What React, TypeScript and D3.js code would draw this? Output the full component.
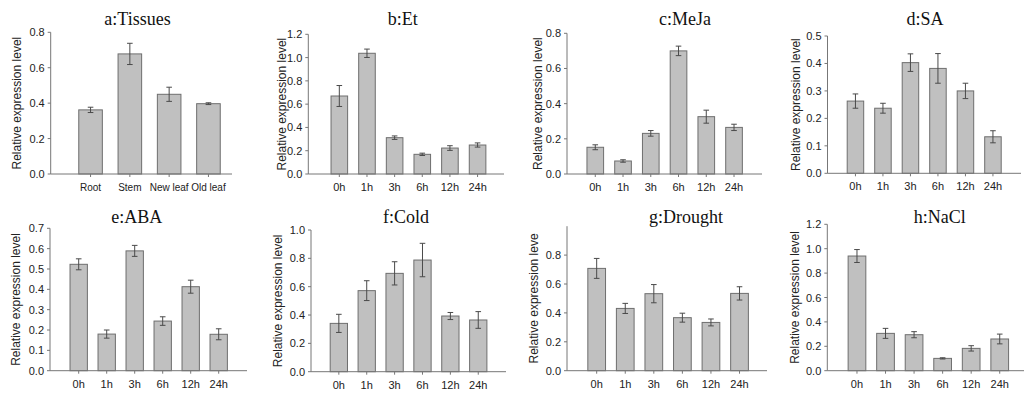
import React from "react";
import * as d3 from "d3";

// ---------- data ----------
const tissueCats = ["Root", "Stem", "New leaf", "Old leaf"];
const timeCats = ["0h", "1h", "3h", "6h", "12h", "24h"];

const tissuesVals = [0.362, 0.678, 0.45, 0.397];
const tissuesErr = [0.015, 0.06, 0.04, 0.005];
const etVals = [0.67, 1.037, 0.312, 0.169, 0.223, 0.249];
const etErr = [0.09, 0.036, 0.015, 0.01, 0.02, 0.018];
const mejaVals = [0.152, 0.074, 0.231, 0.7, 0.326, 0.265];
const mejaErr = [0.014, 0.007, 0.016, 0.027, 0.037, 0.018];
const saVals = [0.263, 0.237, 0.403, 0.382, 0.3, 0.133];
const saErr = [0.026, 0.018, 0.032, 0.054, 0.028, 0.022];
const abaVals = [0.523, 0.18, 0.589, 0.244, 0.413, 0.179];
const abaErr = [0.027, 0.02, 0.027, 0.021, 0.032, 0.027];
const coldVals = [0.341, 0.572, 0.694, 0.788, 0.393, 0.365];
const coldErr = [0.064, 0.07, 0.082, 0.118, 0.025, 0.059];
const droughtVals = [0.708, 0.431, 0.533, 0.367, 0.334, 0.535];
const droughtErr = [0.069, 0.035, 0.063, 0.031, 0.024, 0.046];
const naclVals = [0.94, 0.306, 0.295, 0.101, 0.183, 0.26];
const naclErr = [0.053, 0.041, 0.025, 0.005, 0.022, 0.04];

const ticks08 = [0, 0.2, 0.4, 0.6, 0.8];
const ticks12 = [0, 0.2, 0.4, 0.6, 0.8, 1.0, 1.2];
const ticks05 = [0, 0.1, 0.2, 0.3, 0.4, 0.5];
const ticks07 = [0, 0.1, 0.2, 0.3, 0.4, 0.5, 0.6, 0.7];
const ticks10 = [0, 0.2, 0.4, 0.6, 0.8, 1.0];

const titles = ["a:Tissues", "b:Et", "c:MeJa", "d:SA", "e:ABA", "f:Cold", "g:Drought", "h:NaCl"];
const yLabel = "Relative expression level";
const yLabelG = "Relative expression leve";

// ---------- layout ----------
type Layout = {
  ax0: number; ax1: number; b0: number; b1: number; yTop: number; yBot: number;
  yMax: number; tx: number; ty: number; lx: number; pad: number; xfs: number;
};
const layouts: Layout[] = [
  { ax0: 50.7, ax1: 232, b0: 70.9, b1: 228.1, yTop: 32.3, yBot: 174, yMax: 0.8, tx: 137.5, ty: 25, lx: 17, pad: 0.4, xfs: 10 },
  { ax0: 308.3, ax1: 504, b0: 325.5, b1: 491.4, yTop: 34.3, yBot: 174, yMax: 1.2, tx: 402.7, ty: 25, lx: 282, pad: 0.4, xfs: 11 },
  { ax0: 567, ax1: 762, b0: 581.4, b1: 747.9, yTop: 33.3, yBot: 174, yMax: 0.8, tx: 685, ty: 25, lx: 538, pad: 0.4, xfs: 11 },
  { ax0: 827.5, ax1: 1021, b0: 841.7, b1: 1006.7, yTop: 36, yBot: 173.3, yMax: 0.5, tx: 925, ty: 25, lx: 796, pad: 0.4, xfs: 11 },
  { ax0: 50, ax1: 247, b0: 64.7, b1: 232.7, yTop: 228.3, yBot: 370.7, yMax: 0.7, tx: 136.7, ty: 223, lx: 16, pad: 0.38, xfs: 11 },
  { ax0: 311, ax1: 506, b0: 324.9, b1: 492.2, yTop: 230, yBot: 371.7, yMax: 1.0, tx: 406, ty: 223, lx: 277.7, pad: 0.38, xfs: 11 },
  { ax0: 567, ax1: 767, b0: 582.4, b1: 753.8, yTop: 226.2, yBot: 370.7, yMax: 1.0, tx: 686, ty: 223, lx: 533.7, pad: 0.38, xfs: 11 },
  { ax0: 827.3, ax1: 1024, b0: 842.7, b1: 1014, yTop: 224.3, yBot: 370.7, yMax: 1.2, tx: 939.7, ty: 223, lx: 794.7, pad: 0.38, xfs: 11 },
];

const panels = [
  { cats: tissueCats, vals: tissuesVals, errs: tissuesErr, ticks: ticks08, label: yLabel },
  { cats: timeCats, vals: etVals, errs: etErr, ticks: ticks12, label: yLabel },
  { cats: timeCats, vals: mejaVals, errs: mejaErr, ticks: ticks08, label: yLabel },
  { cats: timeCats, vals: saVals, errs: saErr, ticks: ticks05, label: yLabel },
  { cats: timeCats, vals: abaVals, errs: abaErr, ticks: ticks07, label: yLabel },
  { cats: timeCats, vals: coldVals, errs: coldErr, ticks: ticks10, label: yLabel },
  { cats: timeCats, vals: droughtVals, errs: droughtErr, ticks: ticks08, label: yLabelG },
  { cats: timeCats, vals: naclVals, errs: naclErr, ticks: ticks12, label: yLabel },
];

const SANS = "'Liberation Sans', Arial, sans-serif";
const SERIF = "'Liberation Serif', 'Times New Roman', serif";
const AXIS = "#777";
const BAR_FILL = "#c0c0c0";
const BAR_STROKE = "#6e6e6e";
const ERR = "#4a4a4a";

function Panel({ idx }: { idx: number }) {
  const L = layouts[idx];
  const P = panels[idx];
  const x = d3.scaleBand<string>().domain(P.cats).range([L.b0, L.b1])
    .paddingInner(L.pad).paddingOuter(L.pad / 2);
  const y = d3.scaleLinear().domain([0, L.yMax]).range([L.yBot, L.yTop]);
  const fmt = d3.format(".1f");
  const bw = x.bandwidth();
  const cap = 2.8;
  const midY = (L.yTop + L.yBot) / 2;
  return (
    <g>
      <text x={L.tx} y={L.ty} textAnchor="middle" fontFamily={SERIF} fontSize={18} fill="#111">
        {titles[idx]}
      </text>
      <text transform={`translate(${L.lx},${midY}) rotate(-90)`} textAnchor="middle"
        dominantBaseline="central" fontFamily={SANS} fontSize={12} fill="#222">
        {P.label}
      </text>
      {P.cats.map((c, i) => (
        <rect key={c} x={x(c)!} y={y(P.vals[i])} width={bw} height={y(0) - y(P.vals[i])}
          fill={BAR_FILL} stroke={BAR_STROKE} strokeWidth={1} />
      ))}
      {P.cats.map((c, i) => {
        const cx = x(c)! + bw / 2;
        const hi = y(P.vals[i] + P.errs[i]);
        const lo = y(P.vals[i] - P.errs[i]);
        return (
          <g key={c} stroke={ERR} strokeWidth={1}>
            <line x1={cx} x2={cx} y1={hi} y2={lo} />
            <line x1={cx - cap} x2={cx + cap} y1={hi} y2={hi} />
            <line x1={cx - cap} x2={cx + cap} y1={lo} y2={lo} />
          </g>
        );
      })}
      <line x1={L.ax0} x2={L.ax0} y1={L.yTop} y2={L.yBot} stroke={AXIS} strokeWidth={1} />
      <line x1={L.ax0} x2={L.ax1} y1={L.yBot} y2={L.yBot} stroke={AXIS} strokeWidth={1} />
      {P.ticks.map((t) => (
        <g key={t}>
          <line x1={L.ax0 - 3} x2={L.ax0} y1={y(t)} y2={y(t)} stroke={AXIS} strokeWidth={1} />
          <text x={L.ax0 - 6} y={y(t)} textAnchor="end" dominantBaseline="central"
            fontFamily={SANS} fontSize={11} fill="#222">{fmt(t)}</text>
        </g>
      ))}
      {P.cats.map((c) => (
        <g key={c}>
          <line x1={x(c)! + bw / 2} x2={x(c)! + bw / 2} y1={L.yBot} y2={L.yBot + 3} stroke={AXIS} strokeWidth={1} />
          <text x={x(c)! + bw / 2} y={L.yBot + 17} textAnchor="middle" fontFamily={SANS}
            fontSize={L.xfs} fill="#222">{c}</text>
        </g>
      ))}
    </g>
  );
}

export default function App() {
  return (
    <svg width={1024} height={395} style={{ position: "absolute", left: 0, top: 0, background: "#fff" }}>
      <rect width={1024} height={395} fill="#fff" />
      {layouts.map((_, i) => <Panel key={i} idx={i} />)}
    </svg>
  );
}
